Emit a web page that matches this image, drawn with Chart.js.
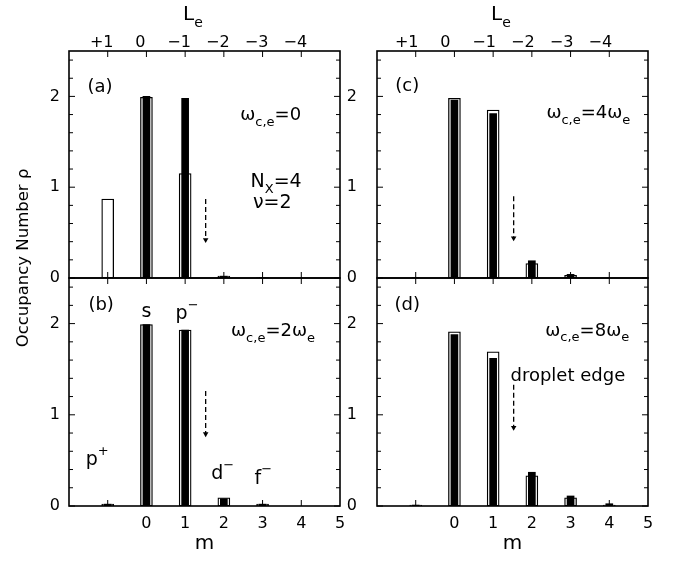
<!DOCTYPE html>
<html>
<head>
<meta charset="utf-8">
<script src="https://cdn.jsdelivr.net/npm/chart.js@4.4.1/dist/chart.umd.min.js"></script>
<style>
  body { margin: 0; background: #fff; }
  #wrap { position: relative; width: 673px; height: 561px; overflow: hidden; }
  #wrap canvas { position: absolute; left: 0; top: 0; }
</style>
</head>
<body>
<div id="wrap">
  <canvas id="panelA" width="673" height="561"></canvas>
  <canvas id="panelB" width="673" height="561"></canvas>
  <canvas id="panelC" width="673" height="561"></canvas>
  <canvas id="panelD" width="673" height="561"></canvas>
</div>
<script>
// orbital index m (bottom axis); L_e on top axis is -m
const mValues = [-1, 0, 1, 2, 3, 4];

// occupancy numbers, open (wide) bars and filled (narrow) bars
const openA = [0.87, 1.99, 1.15, 0.02, 0.005, null];
const fillA = [null, 2.0, 1.98, 0.02, 0.005, null];
const openB = [0.02, 1.99, 1.93, 0.09, 0.02, null];
const fillB = [0.02, 1.99, 1.93, 0.08, 0.02, null];
const openC = [null, 1.98, 1.85, 0.16, 0.03, null];
const fillC = [0.005, 1.96, 1.81, 0.19, 0.04, null];
const openD = [0.01, 1.91, 1.69, 0.33, 0.09, 0.01];
const fillD = [0.01, 1.88, 1.62, 0.37, 0.11, 0.025];

// tick labels
const topTickValues = [-1, 0, 1, 2, 3, 4];
const topTickLabels = ['+1', '0', '\u22121', '\u22122', '\u22123', '\u22124'];
const bottomTickValues = [0, 1, 2, 3, 4, 5];
const bottomTickLabels = ['0', '1', '2', '3', '4', '5'];
const yTickValues = [0, 1, 2];
const yTickLabels = ['0', '1', '2'];
const yMinorTicks = [0.2, 0.4, 0.6, 0.8, 1.2, 1.4, 1.6, 1.8, 2.2, 2.4];
const xTickMarks = [-1, 0, 1, 2, 3, 4];

// dashed "droplet edge" arrows: [m, from, to]
const arrowA = [1.53, 0.87, 0.42];
const arrowB = [1.53, 1.26, 0.79];
const arrowC = [1.53, 0.9, 0.44];
const arrowD = [1.53, 1.33, 0.86];

const FONT = "'DejaVu Sans', 'Liberation Sans', Arial, sans-serif";
Chart.defaults.font.family = FONT;
Chart.defaults.color = '#000';

function drawRich(ctx, parts, x, y, size) {
  const fontOf = mode => (mode ? Math.round(size * 0.7) : size) + 'px ' + FONT;
  let w = 0;
  parts.forEach(([t, mode]) => { ctx.font = fontOf(mode); w += ctx.measureText(t).width; });
  let cx = x - w / 2;
  parts.forEach(([t, mode]) => {
    ctx.font = fontOf(mode);
    const dy = mode === 'sub' ? size * 0.4 : mode === 'sup' ? -size * 0.45 : 0;
    ctx.fillText(t, cx, y + dy);
    cx += ctx.measureText(t).width;
  });
}

const deco = {
  id: 'deco',
  afterDatasetsDraw(chart, args, opts) {
    const { ctx, chartArea: a, scales } = chart;
    const xs = scales.x, ys = scales.y;
    ctx.save();
    ctx.strokeStyle = '#000';
    ctx.lineWidth = 1;
    ctx.beginPath();
    xTickMarks.forEach(v => {
      const px = xs.getPixelForValue(v);
      ctx.moveTo(px, a.bottom); ctx.lineTo(px, a.bottom - 6);
      ctx.moveTo(px, a.top); ctx.lineTo(px, a.top + 6);
    });
    yTickValues.forEach(v => {
      const py = ys.getPixelForValue(v);
      ctx.moveTo(a.left, py); ctx.lineTo(a.left + 6, py);
      ctx.moveTo(a.right, py); ctx.lineTo(a.right - 6, py);
    });
    yMinorTicks.forEach(v => {
      const py = ys.getPixelForValue(v);
      ctx.moveTo(a.left, py); ctx.lineTo(a.left + 4, py);
      ctx.moveTo(a.right, py); ctx.lineTo(a.right - 4, py);
    });
    ctx.stroke();
    ctx.lineWidth = 1.6;
    ctx.strokeRect(a.left, a.top, a.right - a.left, a.bottom - a.top);

    ctx.fillStyle = '#000';
    ctx.textBaseline = 'middle';
    ctx.textAlign = 'left';
    (opts.notes || []).forEach(n =>
      drawRich(ctx, n.parts, xs.getPixelForValue(n.x), ys.getPixelForValue(n.y), n.size));
    if (opts.topTitle) {
      drawRich(ctx, [['L'], ['e', 'sub']], xs.getPixelForValue(1.2), a.top - 36, 20);
    }
    if (opts.yTitle) {
      ctx.translate(a.left - 45, a.bottom - 20);
      ctx.rotate(-Math.PI / 2);
      ctx.textAlign = 'center';
      ctx.font = '16.5px ' + FONT;
      ctx.fillText('Occupancy Number \u03c1', 0, 0);
    }
    ctx.restore();
  }
};

function makePanel(id, open, filled, arrow, p) {
  const toXY = arr => mValues.map((m, i) => ({ x: m, y: arr[i] }));
  return new Chart(document.getElementById(id), {
    type: 'bar',
    data: {
      datasets: [
        { data: toXY(filled), backgroundColor: '#000', borderWidth: 0, barThickness: 7, grouped: false },
        { data: toXY(open), backgroundColor: '#fff', borderColor: '#000', borderWidth: 1.3,
          borderSkipped: false, barThickness: 12, grouped: false },
        { type: 'line', data: [{ x: arrow[0], y: arrow[1] }, { x: arrow[0], y: arrow[2] }],
          borderColor: '#000', borderWidth: 1.3, borderDash: [5, 3],
          pointRadius: [0, 3.2], pointStyle: 'triangle', rotation: 180,
          pointBackgroundColor: '#000', pointBorderWidth: 0 }
      ]
    },
    options: {
      responsive: false,
      animation: false,
      layout: { padding: p.padding },
      plugins: {
        legend: { display: false },
        tooltip: { enabled: false },
        deco: { notes: p.notes, topTitle: p.top, yTitle: p.yTitle }
      },
      scales: {
        x: {
          type: 'linear', min: -2, max: 5, offset: false,
          display: !p.top,
          afterBuildTicks: s => { s.ticks = bottomTickValues.map(v => ({ value: v })); },
          afterFit: s => { s.height = p.top ? 0 : 50; },
          ticks: { autoSkip: false, maxRotation: 0, padding: 8, font: { size: 16 },
                   callback: (v, i) => bottomTickLabels[i] },
          grid: { display: false, drawTicks: false },
          border: { display: false },
          title: { display: true, text: 'm', font: { size: 20 }, padding: { top: 0, bottom: 0 } }
        },
        x2: {
          type: 'linear', axis: 'x', position: 'top', min: -2, max: 5, offset: false,
          display: p.top,
          afterBuildTicks: s => { s.ticks = topTickValues.map(v => ({ value: v })); },
          afterFit: s => { s.height = p.top ? 40 : 0; },
          ticks: { autoSkip: false, maxRotation: 0, padding: -1, labelOffset: p.labelShift,
                   font: { size: 16 }, callback: (v, i) => topTickLabels[i] },
          grid: { display: false, drawTicks: false },
          border: { display: false }
        },
        y: {
          type: 'linear', min: 0, max: 2.5,
          afterBuildTicks: s => { s.ticks = yTickValues.map(v => ({ value: v })); },
          afterFit: s => { s.width = 40; },
          ticks: { padding: p.yPad, font: { size: 16 }, callback: (v, i) => yTickLabels[i] },
          grid: { display: false, drawTicks: false },
          border: { display: false }
        }
      }
    },
    plugins: [deco]
  });
}

makePanel('panelA', openA, fillA, arrowA, {
  top: true, yTitle: true, yPad: 9, labelShift: -6,
  padding: { left: 29, top: 11, right: 333, bottom: 283 },
  notes: [
    { x: -1.2, y: 2.1, size: 18, parts: [['(a)']] },
    { x: 3.21, y: 1.79, size: 18, parts: [['\u03c9'], ['c,e', 'sub'], ['=0']] },
    { x: 3.35, y: 1.06, size: 19, parts: [['N'], ['X', 'sub'], ['=4']] },
    { x: 3.25, y: 0.82, size: 19, parts: [['\u03bd=2']] }
  ]
});
makePanel('panelB', openB, fillB, arrowB, {
  top: false, yPad: 9, labelShift: 0,
  padding: { left: 29, top: 278, right: 333, bottom: 5 },
  notes: [
    { x: -1.17, y: 2.2, size: 18, parts: [['(b)']] },
    { x: 0.0, y: 2.13, size: 19, parts: [['s']] },
    { x: 1.05, y: 2.1, size: 19, parts: [['p'], ['\u2212', 'sup']] },
    { x: 3.27, y: 1.91, size: 18, parts: [['\u03c9'], ['c,e', 'sub'], ['=2\u03c9'], ['e', 'sub']] },
    { x: -1.27, y: 0.5, size: 19, parts: [['p'], ['+', 'sup']] },
    { x: 1.97, y: 0.35, size: 19, parts: [['d'], ['\u2212', 'sup']] },
    { x: 3.02, y: 0.3, size: 19, parts: [['f'], ['\u2212', 'sup']] }
  ]
});
makePanel('panelC', openC, fillC, arrowC, {
  top: true, yPad: 20, labelShift: -9,
  padding: { left: 337, top: 11, right: 25, bottom: 283 },
  notes: [
    { x: -1.22, y: 2.11, size: 18, parts: [['(c)']] },
    { x: 3.46, y: 1.81, size: 18, parts: [['\u03c9'], ['c,e', 'sub'], ['=4\u03c9'], ['e', 'sub']] }
  ]
});
makePanel('panelD', openD, fillD, arrowD, {
  top: false, yPad: 20, labelShift: 0,
  padding: { left: 337, top: 278, right: 25, bottom: 5 },
  notes: [
    { x: -1.22, y: 2.2, size: 18, parts: [['(d)']] },
    { x: 3.43, y: 1.92, size: 18, parts: [['\u03c9'], ['c,e', 'sub'], ['=8\u03c9'], ['e', 'sub']] },
    { x: 2.93, y: 1.42, size: 18, parts: [['droplet edge']] }
  ]
});
</script>
</body>
</html>
